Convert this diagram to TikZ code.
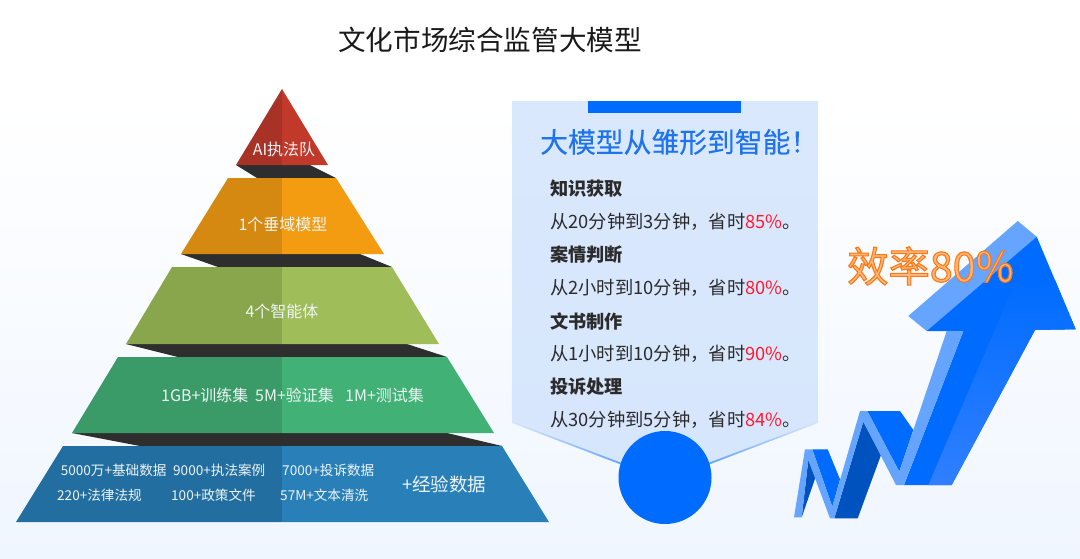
\documentclass[tikz,border=0pt]{standalone}
\usepackage{fontspec}
\setmainfont{Noto Sans CJK SC}
\definecolor{bgb}{HTML}{F0F6FF}
\definecolor{dk}{HTML}{2E2E2E}
\definecolor{redL}{HTML}{A93226}\definecolor{redR}{HTML}{C0392B}
\definecolor{orL}{HTML}{D68910}\definecolor{orR}{HTML}{F39C12}
\definecolor{olL}{HTML}{8AA64C}\definecolor{olR}{HTML}{9FBD58}
\definecolor{grL}{HTML}{3A9A68}\definecolor{grR}{HTML}{41B176}
\definecolor{blL}{HTML}{236EA0}\definecolor{blR}{HTML}{2980B9}
\definecolor{panelT}{HTML}{DAE8FD}\definecolor{panelB}{HTML}{D6E6FC}
\definecolor{vivid}{HTML}{006CFF}\definecolor{lightb}{HTML}{66A5FF}\definecolor{deepb}{HTML}{0052BE}
\definecolor{midb}{HTML}{307FFF}
\definecolor{headb}{HTML}{1F74EE}\definecolor{alert}{HTML}{FF1A2E}\definecolor{bodyt}{HTML}{2B2B2B}
\definecolor{ptxt}{HTML}{EDF4F4}
\tikzset{
  ptext/.style={inner sep=0pt,text=ptxt,font=\fontsize{16}{16}\selectfont},
  ctext/.style={ptext,anchor=west,font=\fontsize{13.6}{13.6}\selectfont},
  gtext/.style={ptext,anchor=west},
  head/.style={inner sep=0pt,anchor=west,text=bodyt,font=\fontsize{18.2}{18.2}\selectfont\bfseries},
  body/.style={inner sep=0pt,anchor=west,text=bodyt,font=\fontsize{18.3}{18.3}\selectfont},
}
\newcommand{\rd}[1]{\textcolor{alert}{#1}}
\begin{document}
\begin{tikzpicture}[x=1pt,y=-1pt]
\useasboundingbox (0,0) rectangle (1080,558);
\fill[white] (0,0) rectangle (1080,101);
\shade[top color=white,bottom color=bgb] (0,100) rectangle (1080,558);
\node[inner sep=0pt,text=black!90,font=\fontsize{27.6}{27.6}\selectfont] (title) at (490,40) {文化市场综合监管大模型};
% pyramid
\fill[dk] (236,165)--(257,178)--(336,178)--(310,165)--cycle;
\fill[redL] (282,89)--(282,165)--(236,165)--cycle;
\fill[redR] (282,89)--(282,165)--(328,165)--cycle;
\fill[dk] (181,254)--(218,267)--(392,267)--(360,254)--cycle;
\fill[orL] (228,178)--(282,178)--(282,254)--(181,254)--cycle;
\fill[orR] (282,178)--(336,178)--(384,254)--(282,254)--cycle;
\fill[dk] (126,344)--(178,357)--(447,357)--(407,344)--cycle;
\fill[olL] (172,267)--(282,267)--(282,344)--(126,344)--cycle;
\fill[olR] (282,267)--(392,267)--(439,344)--(282,344)--cycle;
\fill[dk] (72,433)--(140,446)--(502,446)--(447,433)--cycle;
\fill[grL] (118,357)--(282,357)--(282,433)--(72,433)--cycle;
\fill[grR] (282,357)--(447,357)--(494,433)--(282,433)--cycle;
\fill[blL] (63,446)--(282,446)--(282,522)--(16,522)--cycle;
\fill[blR] (282,446)--(502,446)--(549,522)--(282,522)--cycle;
\node[ptext] (t1) at (284,149) {AI执法队};
\node[ptext] (t2) at (283,224) {1个垂域模型};
\node[ptext] (t3) at (282,311) {4个智能体};
\node[gtext] (g1) at (161,395) {1GB+训练集};
\node[gtext] (g2) at (255,395) {5M+验证集};
\node[gtext] (g3) at (345,395) {1M+测试集};
\node[ctext] (c1) at (60.6,470) {5000万+基础数据};
\node[ctext] (c2) at (173,470) {9000+执法案例};
\node[ctext] (c3) at (282,470) {7000+投诉数据};
\node[ctext] (c4) at (57,495) {220+法律法规};
\node[ctext] (c5) at (171,495) {100+政策文件};
\node[ctext] (c6) at (280,495) {57M+文本清洗};
\node[ptext,anchor=west,font=\fontsize{18.5}{18.5}\selectfont] (c7) at (402,484) {+经验数据};
% panel
\shade[top color=panelT,bottom color=panelB] (512,101)--(818,101)--(818,422)--(665,480)--(512,422)--cycle;
\shade[left color=panelB,right color=lightb] (512,421.5)--(622,463)--(622,465)--(512,423)--cycle;
\shade[left color=lightb,right color=panelB] (818,421.5)--(708,463)--(708,465)--(818,423)--cycle;
\fill[vivid] (588,101) rectangle (741,113);
\fill[vivid] (665,477.5) circle[radius=46.5];
\node[inner sep=0pt,anchor=west,text=headb,font=\fontsize{27.8}{27.8}\selectfont\addfontfeature{FakeBold=0.3}] (h) at (540,142) {大模型从雏形到智能！};
\node[head] (a1) at (550,189) {知识获取};
\node[body] (a2) at (550,222) {从20分钟到3分钟，省时\rd{85\%}。};
\node[head] (b1) at (550,255) {案情判断};
\node[body] (b2) at (550,288) {从2小时到10分钟，省时\rd{80\%}。};
\node[head] (d1) at (550,321) {文书制作};
\node[body] (d2) at (550,354) {从1小时到10分钟，省时\rd{90\%}。};
\node[head] (e1) at (550,387) {投诉处理};
\node[body] (e2) at (550,420) {从30分钟到5分钟，省时\rd{84\%}。};
% arrow
\fill[lightb] (1017.7,221)--(1036.7,236.7)--(926.7,331)--(908.3,316)--cycle;
\fill[vivid] (1036.7,236.7)--(1075.7,329.3)--(1035,330)--(951.7,485)--(904,485)--(963.3,331)--(926.7,331)--cycle;
\shade[bottom color=midb,top color=vivid] (928.3,485)--(951.7,485)--(1035,330)--(1075.7,329.3)--(1055,280)--(1014,285)--cycle;
\fill[vivid] (867.3,411)--(900,411)--(913.3,430)--(899.3,471.7)--cycle;
\fill[vivid] (812.3,449.3)--(827.7,449.3)--(840,479.3)--(832.3,506.7)--cycle;
\fill[deepb] (863.3,421.7)--(881,455)--(857.7,518.3)--(834.3,518.3)--cycle;
\fill[deepb] (808.3,460)--(815.7,476.7)--(801.7,517.3)--cycle;
\fill[lightb] (860,411)--(867.3,411)--(899.3,471.7)--(946.7,331)--(963.3,331)--(904,485)--(896,485)--(863.3,421.7)--(834.3,518.3)--(830,518.3)--(808.3,460)--(801.7,517.3)--(794,517.3)--(805,449.3)--(812.3,449.3)--(832.3,506.7)--cycle;
\node[inner sep=0pt,anchor=west,font=\fontsize{41.3}{41.3}\selectfont] (eff) at (847,266) {\special{pdf:code q 2 Tr 1.1 w 1 0.47 0.08 RG 1 0.72 0.48 rg}效率80\%\special{pdf:code Q}};
\end{tikzpicture}
\end{document}
